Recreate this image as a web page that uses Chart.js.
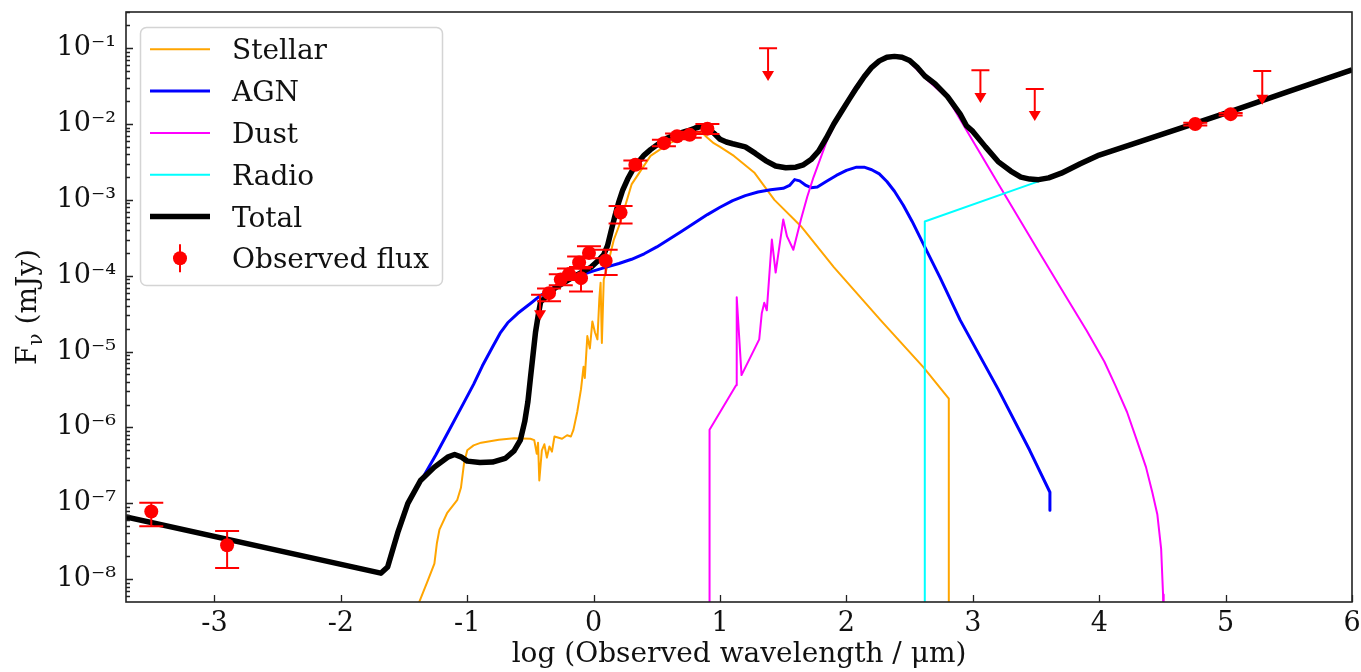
<!DOCTYPE html>
<html><head><meta charset="utf-8">
<script src="https://cdn.jsdelivr.net/npm/chart.js"></script>
<style>html,body{margin:0;padding:0;background:#fff}canvas{display:block}</style>
</head><body>
<canvas id="c" width="1361" height="672"></canvas>
<script>
// ---------------- data ----------------
const xTickValues = [-3, -2, -1, 0, 1, 2, 3, 4, 5, 6];
const xTickLabels = ['-3', '-2', '-1', '0', '1', '2', '3', '4', '5', '6'];
const yTickExps   = [-8, -7, -6, -5, -4, -3, -2, -1];
const yTickLabels = ['10⁻⁸', '10⁻⁷', '10⁻⁶', '10⁻⁵', '10⁻⁴', '10⁻³', '10⁻²', '10⁻¹'];

const seriesNames = ['Stellar', 'AGN', 'Dust', 'Radio', 'Total', 'Observed flux'];

const stellarX = [-1.45,-1.38,-1.31,-1.26,-1.24,-1.22,-1.16,-1.08,-1.05,-1.025,-1.00,-0.95,-0.89,-0.75,-0.63,-0.50,-0.47,-0.45,-0.44,-0.43,-0.41,-0.39,-0.37,-0.35,-0.33,-0.31,-0.25,-0.21,-0.18,-0.16,-0.13,-0.10,-0.08,-0.07,-0.05,-0.03,-0.01,0.01,0.03,0.045,0.055,0.065,0.08,0.12,0.16,0.21,0.30,0.45,0.60,0.75,0.85,0.90,0.95,1.00,1.11,1.27,1.43,1.64,1.90,2.27,2.61,2.81,2.81];
const stellarY = [1e-9,5.0e-9,9.8e-9,1.6e-8,3.0e-8,4.5e-8,7.4e-8,1.1e-7,1.6e-7,3.4e-7,5.0e-7,5.8e-7,6.3e-7,6.9e-7,7.2e-7,7.1e-7,6.8e-7,4.5e-7,6.3e-7,2.0e-7,5.0e-7,6.0e-7,4.0e-7,5.6e-7,4.8e-7,7.6e-7,7.1e-7,7.9e-7,7.6e-7,9.3e-7,1.6e-6,3.2e-6,6.3e-6,4.5e-6,1.6e-5,1.1e-5,2.5e-5,1.8e-5,1.45e-5,5.0e-5,8.1e-5,1.3e-5,8.9e-5,1.6e-4,3.0e-4,5.0e-4,1.6e-3,3.8e-3,5.6e-3,7.1e-3,7.9e-3,6.6e-3,5.6e-3,5.0e-3,3.8e-3,2.3e-3,1.0e-3,4.5e-4,1.3e-4,2.6e-5,6.2e-6,2.4e-6,1e-9];

const agnX = [-1.46,-1.35,-1.25,-1.15,-1.05,-0.95,-0.88,-0.80,-0.74,-0.68,-0.60,-0.50,-0.42,-0.30,-0.20,-0.10,0.00,0.10,0.20,0.30,0.40,0.50,0.60,0.70,0.80,0.90,1.00,1.10,1.20,1.30,1.40,1.50,1.55,1.59,1.63,1.68,1.72,1.77,1.84,1.92,2.00,2.08,2.14,2.20,2.26,2.32,2.38,2.45,2.52,2.60,2.74,2.90,3.20,3.45,3.61,3.61];
const agnY = [1.1e-7,2.2e-7,4.3e-7,8.8e-7,1.8e-6,3.7e-6,6.5e-6,1.15e-5,1.75e-5,2.4e-5,3.2e-5,4.3e-5,5.5e-5,7.3e-5,8.8e-5,1.02e-4,1.16e-4,1.3e-4,1.45e-4,1.65e-4,1.95e-4,2.4e-4,3.05e-4,3.9e-4,5.0e-4,6.4e-4,8.0e-4,9.8e-4,1.14e-3,1.27e-3,1.36e-3,1.42e-3,1.55e-3,1.85e-3,1.78e-3,1.55e-3,1.45e-3,1.48e-3,1.75e-3,2.1e-3,2.45e-3,2.7e-3,2.7e-3,2.5e-3,2.2e-3,1.75e-3,1.3e-3,8.5e-4,5.2e-4,2.8e-4,9.5e-5,2.6e-5,3.2e-6,5.0e-7,1.4e-7,8.1e-8];

const dustX = [0.917,0.917,1.127,1.132,1.17,1.31,1.33,1.35,1.37,1.41,1.44,1.50,1.53,1.58,1.64,1.69,1.74,1.85,1.95,2.05,2.11,2.24,2.35,2.48,2.64,2.80,2.95,3.22,3.50,3.74,3.90,4.04,4.13,4.22,4.30,4.37,4.42,4.46,4.49,4.505,4.51];
const dustY = [1e-9,9.3e-7,3.6e-6,5.2e-5,4.9e-6,1.45e-5,3.2e-5,4.4e-5,3.5e-5,3.0e-4,1.1e-4,5.5e-4,3.3e-4,2.2e-4,5.5e-4,1.1e-3,2.0e-3,6.3e-3,1.35e-2,2.75e-2,3.8e-2,6.6e-2,7.8e-2,7.1e-2,3.8e-2,2.2e-2,8.3e-3,1.45e-3,2.4e-4,5.2e-5,1.9e-5,7.4e-6,3.5e-6,1.6e-6,6.6e-7,3.0e-7,1.4e-7,7.1e-8,2.5e-8,6.3e-9,1e-9];

const radioX = [2.62,2.62,3.53,4.00,4.74,5.06,5.50,6.00];
const radioY = [1e-9,5.2e-4,1.78e-3,3.8e-3,9.8e-3,1.48e-2,2.7e-2,5.1e-2];

const totalX = [-3.70,-1.684,-1.63,-1.55,-1.47,-1.37,-1.26,-1.15,-1.10,-1.05,-1.00,-0.90,-0.80,-0.70,-0.63,-0.58,-0.545,-0.52,-0.50,-0.48,-0.46,-0.44,-0.42,-0.36,-0.31,-0.20,-0.10,-0.02,0.03,0.08,0.11,0.14,0.17,0.20,0.23,0.27,0.31,0.35,0.40,0.45,0.52,0.58,0.65,0.74,0.80,0.85,0.90,0.95,1.00,1.05,1.10,1.20,1.28,1.36,1.44,1.52,1.60,1.66,1.72,1.78,1.84,1.90,1.96,2.02,2.08,2.14,2.20,2.26,2.32,2.38,2.44,2.50,2.56,2.62,2.70,2.80,2.90,2.95,3.00,3.10,3.20,3.30,3.38,3.45,3.52,3.60,3.70,3.85,4.00,4.74,5.06,5.50,6.00];
const totalY = [6.6e-8,1.2e-8,1.45e-8,4.1e-8,1.0e-7,2.0e-7,3.0e-7,4.1e-7,4.4e-7,4.1e-7,3.6e-7,3.45e-7,3.5e-7,3.9e-7,4.9e-7,6.8e-7,1.2e-6,2.2e-6,4.5e-6,9.0e-6,1.8e-5,2.9e-5,4.5e-5,5.6e-5,6.8e-5,8.8e-5,1.1e-4,1.3e-4,1.55e-4,1.9e-4,2.5e-4,4.0e-4,6.3e-4,9.5e-4,1.35e-3,1.9e-3,2.5e-3,3.1e-3,3.9e-3,4.6e-3,5.6e-3,6.5e-3,7.3e-3,8.1e-3,8.8e-3,9.3e-3,8.8e-3,7.6e-3,6.3e-3,5.8e-3,5.5e-3,5.0e-3,4.1e-3,3.3e-3,2.8e-3,2.65e-3,2.7e-3,2.9e-3,3.4e-3,4.4e-3,6.5e-3,1.0e-2,1.45e-2,2.1e-2,3.0e-2,4.2e-2,5.6e-2,6.8e-2,7.6e-2,7.8e-2,7.6e-2,6.9e-2,5.6e-2,4.3e-2,3.4e-2,2.3e-2,1.35e-2,9.5e-3,8.0e-3,5.0e-3,3.2e-3,2.4e-3,2.0e-3,1.88e-3,1.85e-3,1.95e-3,2.25e-3,3.0e-3,3.9e-3,1.0e-2,1.5e-2,2.7e-2,5.2e-2];

// observed fluxes with lower / upper error values
const obsX  = [-3.50,-2.90,-0.353,-0.26,-0.195,-0.10,-0.115,-0.037,0.095,0.213,0.33,0.556,0.66,0.76,0.90,4.76,5.04];
const obsY  = [7.8e-8,2.8e-8,5.9e-5,8.9e-5,1.05e-4,9.3e-5,1.5e-4,2.0e-4,1.58e-4,6.8e-4,2.9e-3,5.6e-3,6.9e-3,7.2e-3,8.7e-3,1.0e-2,1.35e-2];
const obsLo = [5.0e-8,1.4e-8,4.6e-5,7.5e-5,8.8e-5,6.2e-5,1.25e-4,1.7e-4,1.02e-4,4.9e-4,2.6e-3,5.1e-3,6.3e-3,6.6e-3,7.4e-3,9.6e-3,1.3e-2];
const obsHi = [1.02e-7,4.3e-8,6.8e-5,1.05e-4,1.25e-4,1.3e-4,1.8e-4,2.45e-4,2.2e-4,8.3e-4,3.3e-3,6.2e-3,7.5e-3,7.9e-3,1.0e-2,1.04e-2,1.4e-2];

// upper limits: cap value and arrow-tip value
const ulX   = [-0.424,1.38,3.06,3.49,5.29];
const ulTop = [5.6e-5,1.0e-1,5.1e-2,2.9e-2,5.0e-2];
const ulLow = [2.6e-5,3.7e-2,1.9e-2,1.1e-2,1.8e-2];

// ---------------- styling ----------------
const FONT = "'DejaVu Serif', 'Liberation Serif', serif";
const TXT = '#111';
const colors = {Stellar:'#ffa500', AGN:'#0000ff', Dust:'#ff00ff', Radio:'#00ffff', Total:'#000000', Obs:'#ff0000'};
const widths = {Stellar:2, AGN:3, Dust:2, Radio:2, Total:5.5};

const zip = (xs, ys) => xs.map((x, i) => ({x, y: ys[i]}));
function lineDs(name, xs, ys, order) {
  return {label: name, data: zip(xs, ys), showLine: true, borderColor: colors[name],
    backgroundColor: colors[name], borderWidth: widths[name], pointRadius: 0, pointHoverRadius: 0,
    tension: 0, fill: false, order, clip: 0, borderJoinStyle: 'round'};
}

const datasets = [
  lineDs(seriesNames[0], stellarX, stellarY, 6),
  lineDs(seriesNames[1], agnX, agnY, 5),
  lineDs(seriesNames[2], dustX, dustY, 4),
  lineDs(seriesNames[3], radioX, radioY, 3),
  lineDs(seriesNames[4], totalX, totalY, 2),
  {label: seriesNames[5], data: zip(obsX, obsY), showLine: false, pointRadius: 7, pointHoverRadius: 7,
   pointBackgroundColor: colors.Obs, pointBorderWidth: 0, borderColor: colors.Obs, backgroundColor: colors.Obs, order: 1, clip: false}
];

// error bars + upper limits (drawn just before the observed markers)
const errorBars = {
  id: 'errorBars',
  beforeDatasetDraw(chart, args) {
    if (chart.data.datasets[args.index].label !== seriesNames[5]) return;
    const {ctx, scales: {x, y}} = chart;
    const cap = 12;
    ctx.save();
    ctx.strokeStyle = colors.Obs; ctx.fillStyle = colors.Obs; ctx.lineWidth = 2;
    obsX.forEach((v, i) => {
      const px = x.getPixelForValue(v), y1 = y.getPixelForValue(obsLo[i]), y2 = y.getPixelForValue(obsHi[i]);
      ctx.beginPath();
      ctx.moveTo(px, y1); ctx.lineTo(px, y2);
      ctx.moveTo(px - cap, y1); ctx.lineTo(px + cap, y1);
      ctx.moveTo(px - cap, y2); ctx.lineTo(px + cap, y2);
      ctx.stroke();
    });
    ulX.forEach((v, i) => {
      const px = x.getPixelForValue(v), yt = y.getPixelForValue(ulTop[i]), yb = y.getPixelForValue(ulLow[i]);
      ctx.beginPath();
      ctx.moveTo(px - 9, yt); ctx.lineTo(px + 9, yt);
      ctx.moveTo(px, yt); ctx.lineTo(px, yb - 6);
      ctx.stroke();
      ctx.beginPath();
      ctx.moveTo(px - 6, yb - 10); ctx.lineTo(px + 6, yb - 10); ctx.lineTo(px, yb); ctx.closePath();
      ctx.fill();
    });
    ctx.restore();
  }
};

// frame, inward ticks, y title and legend
const decor = {
  id: 'decor',
  afterDraw(chart) {
    const {ctx, chartArea: a, scales: {x, y}} = chart;
    ctx.save();
    ctx.strokeStyle = '#222'; ctx.lineWidth = 1.6;
    ctx.strokeRect(a.left, a.top, a.right - a.left, a.bottom - a.top);
    ctx.lineWidth = 1.3;
    ctx.beginPath();
    y.ticks.forEach(t => {
      const py = Math.round(y.getPixelForValue(t.value)) + 0.5;
      if (py < a.top || py > a.bottom) return;
      const len = t.major ? 7 : 4;
      ctx.moveTo(a.left, py); ctx.lineTo(a.left + len, py);
    });
    x.ticks.forEach(t => {
      const px = Math.round(x.getPixelForValue(t.value)) + 0.5;
      ctx.moveTo(px, a.bottom); ctx.lineTo(px, a.bottom - 7);
    });
    ctx.stroke();

    // y axis title with subscript nu
    ctx.save();
    ctx.translate(27, (a.top + a.bottom) / 2);
    ctx.rotate(-Math.PI / 2);
    ctx.fillStyle = TXT; ctx.textBaseline = 'alphabetic';
    const big = `28px ${FONT}`, small = `20px ${FONT}`;
    ctx.font = big; const wF = ctx.measureText('F').width;
    const wRest = ctx.measureText(' (mJy)').width;
    ctx.font = small; const wNu = ctx.measureText('ν').width;
    let sx = -(wF + wNu + wRest) / 2;
    ctx.font = big; ctx.fillText('F', sx, 9);
    ctx.font = small; ctx.fillText('ν', sx + wF, 15);
    ctx.font = big; ctx.fillText(' (mJy)', sx + wF + wNu, 9);
    ctx.restore();

    // legend
    const lx = a.left + 14, ly = a.top + 15, lw = 302, lh = 258;
    ctx.beginPath();
    ctx.roundRect(lx + 0.5, ly + 0.5, lw, lh, 6);
    ctx.fillStyle = 'rgba(255,255,255,0.85)'; ctx.fill();
    ctx.strokeStyle = '#d4d4d4'; ctx.lineWidth = 1.5; ctx.stroke();
    chart.data.datasets.forEach((ds, i) => {
      const cy = ly + 22.3 + i * 41.8;
      const hx = lx + 10;
      if (ds.showLine) {
        ctx.beginPath(); ctx.strokeStyle = ds.borderColor; ctx.lineWidth = ds.borderWidth;
        ctx.moveTo(hx, cy); ctx.lineTo(hx + 60, cy); ctx.stroke();
      } else {
        ctx.beginPath(); ctx.strokeStyle = colors.Obs; ctx.lineWidth = 2;
        ctx.moveTo(hx + 30, cy - 14); ctx.lineTo(hx + 30, cy + 14); ctx.stroke();
        ctx.beginPath(); ctx.fillStyle = colors.Obs; ctx.arc(hx + 30, cy, 7, 0, Math.PI * 2); ctx.fill();
      }
      ctx.fillStyle = TXT; ctx.font = `28px ${FONT}`; ctx.textBaseline = 'alphabetic'; ctx.textAlign = 'left';
      ctx.fillText(ds.label, lx + 92, cy + 10);
    });
    ctx.restore();
  }
};

new Chart(document.getElementById('c'), {
  type: 'scatter',
  data: {datasets},
  plugins: [errorBars, decor],
  options: {
    responsive: false, animation: false, devicePixelRatio: 1, events: [],
    layout: {padding: {left: 0, top: 12, right: 9, bottom: 0}},
    plugins: {legend: {display: false}, tooltip: {enabled: false}},
    scales: {
      x: {
        type: 'linear', min: -3.7, max: 6,
        afterBuildTicks: s => { s.ticks = xTickValues.map(v => ({value: v})); },
        afterFit: s => { s.height = 70; s.paddingLeft = 0; s.paddingRight = 0; },
        grid: {display: false, drawTicks: false}, border: {display: false},
        ticks: {autoSkip: false, maxRotation: 0, padding: 6, color: TXT,
          font: {family: FONT, size: 27},
          callback: v => xTickLabels[xTickValues.indexOf(v)]},
        title: {display: true, text: 'log (Observed wavelength / μm)', color: TXT,
          font: {family: FONT, size: 28}, padding: {top: 0, bottom: 0}}
      },
      y: {
        type: 'logarithmic', min: 5e-9, max: 0.3,
        afterBuildTicks: s => {
          const t = [];
          for (let e = -9; e <= -1; e++) for (let m = 1; m <= 9; m++) {
            const v = m * Math.pow(10, e);
            if (v >= s.min * 0.999 && v <= s.max * 1.001) t.push({value: v, major: m === 1});
          }
          s.ticks = t;
        },
        afterFit: s => { s.width = 126; s.paddingTop = 0; s.paddingBottom = 0; },
        grid: {display: false, drawTicks: false}, border: {display: false},
        ticks: {autoSkip: false, padding: 10, color: TXT, font: {family: FONT, size: 27},
          callback: (v, i, ticks) => {
            if (!ticks[i].major) return '';
            const k = yTickExps.indexOf(Math.round(Math.log10(v)));
            return k >= 0 ? yTickLabels[k] : '';
          }}
      }
    }
  }
});
</script>
</body></html>
